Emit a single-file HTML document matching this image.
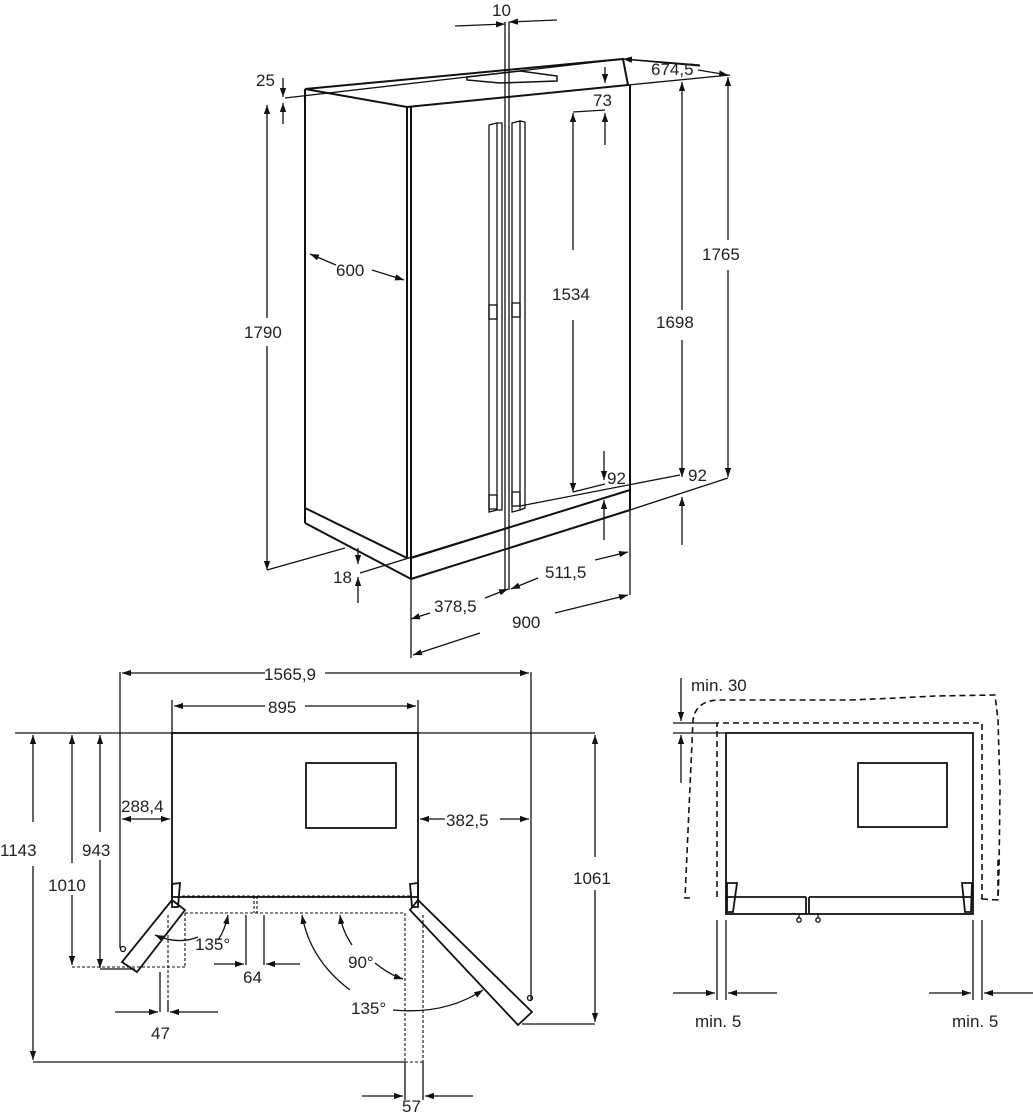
<!DOCTYPE html>
<html><head><meta charset="utf-8"><style>
html,body{margin:0;padding:0;background:#fff}
svg{display:block}
text{font-family:"Liberation Sans",sans-serif;font-size:17px;fill:#222}
</style></head><body>
<svg width="1033" height="1113" viewBox="0 0 1033 1113" xmlns="http://www.w3.org/2000/svg">
<defs>
<marker id="a" viewBox="0 0 10 10" refX="10" refY="5" markerWidth="9" markerHeight="9" orient="auto-start-reverse" markerUnits="userSpaceOnUse"><path d="M0,1.5 L10,5 L0,8.5z" fill="#111"/></marker>
</defs>
<g stroke="#111" fill="none" stroke-width="1.3">
<g stroke-width="2">
<path d="M305,89 L623,59 L628,85 L407,107 Z"/>
<line x1="305" y1="89" x2="305" y2="523"/>
<line x1="407" y1="107" x2="407" y2="558"/>
<line x1="411" y1="107" x2="411" y2="579"/>
<line x1="630" y1="85" x2="630" y2="510"/>
<line x1="305" y1="508" x2="407" y2="558"/>
<line x1="305" y1="523" x2="411" y2="579"/>
<line x1="411" y1="558" x2="630" y2="490"/>
<line x1="411" y1="579" x2="630" y2="510"/>
<path d="M467,77 L520,71 L557,76 L557,81 L500,83 L467,80 Z" stroke-width="1.5"/>
</g>
<line x1="505" y1="22" x2="505" y2="590"/>
<line x1="509" y1="22" x2="509" y2="590"/>
<path d="M489,125 L497,123 L497,510 L489,512 Z"/><path d="M497,123 L502,123 L502,510 L497,510"/>
<path d="M512,123 L520,121 L520,510 L512,512 Z"/><path d="M520,121 L525,122 L525,508 L520,510"/>
<rect x="489" y="305" width="8" height="14"/><rect x="512" y="303" width="8" height="14"/>
<rect x="489" y="495" width="8" height="14"/><rect x="512" y="492" width="8" height="14"/>
<line x1="455" y1="26" x2="505" y2="24" marker-end="url(#a)"/>
<line x1="557" y1="20" x2="509" y2="22" marker-end="url(#a)"/>
<line x1="285" y1="98" x2="623" y2="59"/>
<line x1="283" y1="78" x2="283" y2="97" marker-end="url(#a)"/>
<line x1="283" y1="124" x2="283" y2="103" marker-end="url(#a)"/>
<line x1="628" y1="85" x2="730" y2="75"/>
<line x1="623" y1="59" x2="700" y2="66"/>
<line x1="700" y1="65" x2="623" y2="59" marker-end="url(#a)"/>
<line x1="698" y1="70" x2="728" y2="75" marker-end="url(#a)"/>
<line x1="267" y1="318" x2="267" y2="105" marker-end="url(#a)"/>
<line x1="267" y1="346" x2="267" y2="570" marker-end="url(#a)"/>
<line x1="267" y1="570" x2="345" y2="548"/>
<line x1="310" y1="254" x2="336" y2="265" marker-start="url(#a)"/>
<line x1="372" y1="270" x2="404" y2="280" marker-end="url(#a)"/>
<line x1="573" y1="112" x2="605" y2="110"/>
<line x1="573" y1="113" x2="573" y2="250" marker-start="url(#a)"/>
<line x1="573" y1="320" x2="573" y2="492" marker-end="url(#a)"/>
<line x1="573" y1="492" x2="605" y2="484"/>
<line x1="605" y1="67" x2="605" y2="83" marker-end="url(#a)"/>
<line x1="605" y1="145" x2="605" y2="113" marker-end="url(#a)"/>
<line x1="604" y1="451" x2="604" y2="480" marker-end="url(#a)"/>
<line x1="604" y1="540" x2="604" y2="500" marker-end="url(#a)"/>
<line x1="682" y1="310" x2="682" y2="82" marker-end="url(#a)"/>
<line x1="682" y1="340" x2="682" y2="477" marker-end="url(#a)"/>
<line x1="682" y1="545" x2="682" y2="497" marker-end="url(#a)"/>
<line x1="728" y1="240" x2="728" y2="77" marker-end="url(#a)"/>
<line x1="728" y1="270" x2="728" y2="477" marker-end="url(#a)"/>
<line x1="520" y1="506" x2="680" y2="475"/>
<line x1="630" y1="510" x2="728" y2="478"/>
<line x1="360" y1="573" x2="630" y2="490"/>
<line x1="358" y1="548" x2="358" y2="564" marker-end="url(#a)"/>
<line x1="358" y1="603" x2="358" y2="577" marker-end="url(#a)"/>
<line x1="411" y1="579" x2="411" y2="658"/>
<line x1="630" y1="510" x2="630" y2="595"/>
<line x1="485" y1="598" x2="508" y2="589" marker-end="url(#a)"/>
<line x1="430" y1="613" x2="411" y2="619" marker-end="url(#a)"/>
<line x1="538" y1="578" x2="511" y2="589" marker-end="url(#a)"/>
<line x1="595" y1="560" x2="628" y2="552" marker-end="url(#a)"/>
<line x1="480" y1="633" x2="413" y2="655" marker-end="url(#a)"/>
<line x1="555" y1="613" x2="628" y2="595" marker-end="url(#a)"/>
<g stroke-width="1.8">
<rect x="172" y="733" width="246" height="164"/>
<rect x="306" y="763" width="90" height="65"/>
<path d="M172,884 L180,883 L178,907 L172,907 Z"/>
<path d="M410,884 L418,883 L418,907 L412,907 Z"/>
<path d="M172,900 L185,910 L137,972 L122,962 Z"/>
<path d="M418,900 L410,910 L518,1025 L532,1012 Z"/>
</g>
<line x1="15" y1="733" x2="595" y2="733"/>
<g stroke-dasharray="3,2" stroke-width="1.1">
<line x1="182" y1="896" x2="410" y2="896"/><line x1="185" y1="913" x2="405" y2="913"/>
<line x1="185" y1="913" x2="185" y2="967"/><line x1="168" y1="915" x2="168" y2="1000"/>
<line x1="254" y1="896" x2="254" y2="913"/><line x1="257" y1="896" x2="257" y2="913"/>
<line x1="405" y1="913" x2="405" y2="1062"/><line x1="423" y1="915" x2="423" y2="1062"/>
<line x1="405" y1="1062" x2="423" y2="1062"/>
<line x1="72" y1="967" x2="185" y2="967"/>
</g>
<line x1="120" y1="672" x2="120" y2="948"/><line x1="531" y1="672" x2="531" y2="1000"/>
<line x1="172" y1="700" x2="172" y2="733"/><line x1="418" y1="700" x2="418" y2="733"/>
<line x1="265" y1="673" x2="122" y2="673" marker-end="url(#a)"/>
<line x1="325" y1="673" x2="529" y2="673" marker-end="url(#a)"/>
<line x1="265" y1="706" x2="174" y2="706" marker-end="url(#a)"/>
<line x1="305" y1="706" x2="416" y2="706" marker-end="url(#a)"/>
<line x1="122" y1="819" x2="170" y2="819" marker-start="url(#a)" marker-end="url(#a)"/>
<line x1="420" y1="819" x2="445" y2="819" marker-start="url(#a)"/>
<line x1="500" y1="819" x2="529" y2="819" marker-end="url(#a)"/>
<line x1="33" y1="822" x2="33" y2="735" marker-end="url(#a)"/>
<line x1="33" y1="866" x2="33" y2="1060" marker-end="url(#a)"/>
<line x1="33" y1="1062" x2="405" y2="1062"/>
<line x1="72" y1="863" x2="72" y2="735" marker-end="url(#a)"/>
<line x1="72" y1="895" x2="72" y2="965" marker-end="url(#a)"/>
<line x1="100" y1="832" x2="100" y2="735" marker-end="url(#a)"/>
<line x1="100" y1="860" x2="100" y2="968" marker-end="url(#a)"/>
<line x1="100" y1="969" x2="135" y2="969"/>
<line x1="595" y1="857" x2="595" y2="735" marker-end="url(#a)"/>
<line x1="595" y1="890" x2="595" y2="1022" marker-end="url(#a)"/>
<line x1="522" y1="1024" x2="595" y2="1024"/>
<line x1="160" y1="972" x2="160" y2="1012"/><line x1="168" y1="1000" x2="168" y2="1012"/>
<line x1="115" y1="1012" x2="158" y2="1012" marker-end="url(#a)"/>
<line x1="218" y1="1012" x2="170" y2="1012" marker-end="url(#a)"/>
<line x1="246" y1="915" x2="246" y2="965"/><line x1="264" y1="915" x2="264" y2="965"/>
<line x1="214" y1="964" x2="244" y2="964" marker-end="url(#a)"/>
<line x1="300" y1="964" x2="266" y2="964" marker-end="url(#a)"/>
<line x1="405" y1="1062" x2="405" y2="1100"/><line x1="423" y1="1062" x2="423" y2="1100"/>
<line x1="362" y1="1096" x2="403" y2="1096" marker-end="url(#a)"/>
<line x1="473" y1="1096" x2="425" y2="1096" marker-end="url(#a)"/>
<path d="M198,937 Q178,945 155,935" marker-end="url(#a)"/>
<path d="M218,940 Q225,930 228,915" marker-end="url(#a)"/>
<path d="M350,990 Q310,960 302,915" marker-end="url(#a)"/>
<path d="M393,1010 Q445,1015 483,990" marker-end="url(#a)"/>
<path d="M375,963 Q390,975 403,979" marker-end="url(#a)"/>
<path d="M352,945 Q342,930 340,915" marker-end="url(#a)"/>
<circle cx="123" cy="949" r="2.5"/><circle cx="530" cy="998" r="2.5"/>
<g stroke-width="1.8">
<rect x="726" y="733" width="247" height="181"/>
<rect x="858" y="763" width="89" height="64"/>
<line x1="726" y1="897" x2="806" y2="897"/><line x1="809" y1="897" x2="973" y2="897"/>
<line x1="806" y1="897" x2="806" y2="914"/><line x1="809" y1="897" x2="809" y2="914"/>
<path d="M727,883 L737,883 L733,912 L727,912 Z"/>
<path d="M962,883 L972,883 L971,912 L965,912 Z"/>
</g>
<circle cx="799" cy="920" r="2.2"/><circle cx="818" cy="920" r="2.2"/>
<line x1="799" y1="914" x2="799" y2="918"/><line x1="818" y1="914" x2="818" y2="918"/>
<g stroke-dasharray="6,4" stroke-width="1.6">
<path d="M717,897 L717,723 L982,723 L982,898 L981,899 M982,899 L998,900 L998,860"/>
<path d="M690,898 L685,898 L693,720 Q696,700 720,700 L850,700 Q900,698 935,696 L995,695 L998,720 L1000,790 L999,870 L998,900"/>
</g>
<line x1="673" y1="723" x2="717" y2="723"/>
<line x1="673" y1="733" x2="726" y2="733"/>
<line x1="681" y1="678" x2="681" y2="721" marker-end="url(#a)"/>
<line x1="681" y1="783" x2="681" y2="735" marker-end="url(#a)"/>
<line x1="717" y1="920" x2="717" y2="1000"/><line x1="726" y1="920" x2="726" y2="1000"/>
<line x1="673" y1="993" x2="715" y2="993" marker-end="url(#a)"/>
<line x1="777" y1="993" x2="728" y2="993" marker-end="url(#a)"/>
<line x1="973" y1="920" x2="973" y2="1000"/><line x1="982" y1="920" x2="982" y2="1000"/>
<line x1="929" y1="993" x2="971" y2="993" marker-end="url(#a)"/>
<line x1="1033" y1="993" x2="984" y2="993" marker-end="url(#a)"/>
</g>
<text x="492" y="16">10</text>
<text x="256" y="86">25</text>
<text x="651" y="75">674,5</text>
<text x="593" y="106">73</text>
<text x="336" y="276">600</text>
<text x="244" y="338">1790</text>
<text x="552" y="300">1534</text>
<text x="656" y="328">1698</text>
<text x="702" y="260">1765</text>
<text x="607" y="484">92</text>
<text x="688" y="481">92</text>
<text x="333" y="583">18</text>
<text x="545" y="578">511,5</text>
<text x="434" y="612">378,5</text>
<text x="512" y="628">900</text>
<text x="264" y="680">1565,9</text>
<text x="268" y="713">895</text>
<text x="121" y="812">288,4</text>
<text x="446" y="826">382,5</text>
<text x="0" y="856">1143</text>
<text x="82" y="856">943</text>
<text x="48" y="891">1010</text>
<text x="573" y="884">1061</text>
<text x="195" y="950">135°</text>
<text x="348" y="968">90°</text>
<text x="243" y="983">64</text>
<text x="351" y="1014">135°</text>
<text x="151" y="1039">47</text>
<text x="402" y="1112">57</text>
<text x="691" y="691">min. 30</text>
<text x="695" y="1027">min. 5</text>
<text x="952" y="1027">min. 5</text>
</svg>
</body></html>
